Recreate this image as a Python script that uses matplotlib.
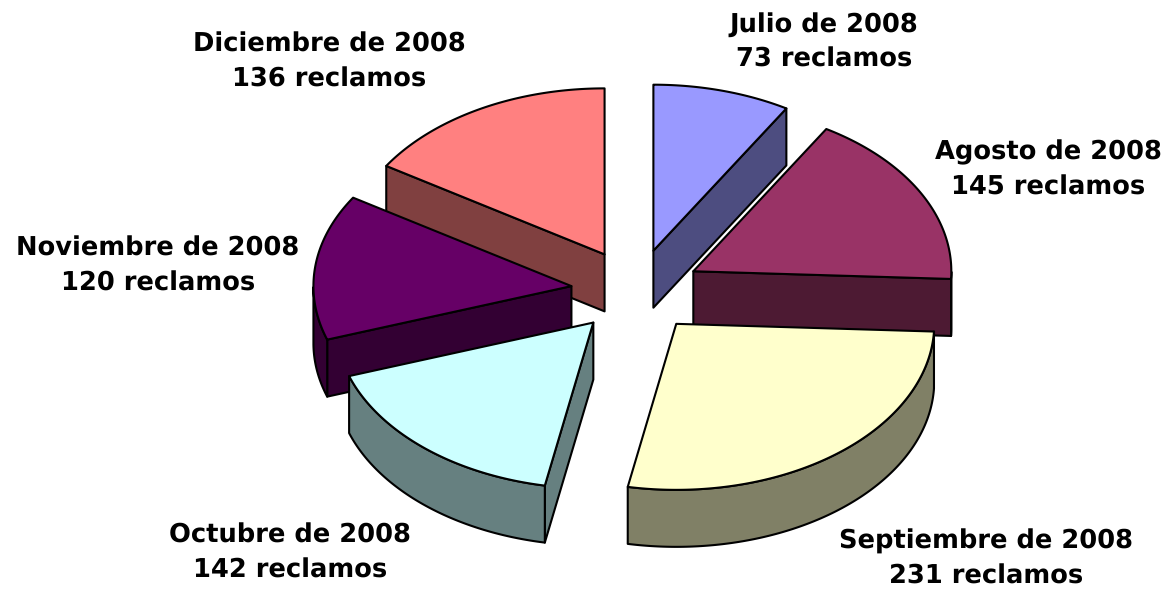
import numpy as np
import matplotlib
matplotlib.use("Agg")
import matplotlib.pyplot as plt
from matplotlib.patches import Polygon

plt.rcParams['text.hinting'] = 'none'

meses = ["Julio de 2008", "Agosto de 2008", "Septiembre de 2008",
         "Octubre de 2008", "Noviembre de 2008", "Diciembre de 2008"]
reclamos = [73, 145, 231, 142, 120, 136]
colores = ["#9999FF", "#993366", "#FFFFCC", "#CCFFFF", "#660066", "#FF8080"]

# posicion de las etiquetas (pixeles)
pos_x = [824, 1048, 986, 290, 158, 329]
pos_y = [42, 170, 559, 553, 266, 62]

# geometria del pie 3D (pixeles)
cx, cy = 636, 291
rx, ry = 258, 166
alto = 57
explode = 0.252
orden = [5, 0, 4, 1, 3, 2]  # de atras hacia adelante

fig = plt.figure(figsize=(11.66, 5.9), dpi=100)
ax = fig.add_axes([0, 0, 1, 1])
ax.set_xlim(0, 1166)
ax.set_ylim(590, 0)
ax.axis("off")

total = sum(reclamos)
fin = np.cumsum(reclamos) / total * 2 * np.pi
ini = np.concatenate([[0], fin[:-1]])


def oscuro(c):
    return tuple(v * 0.5 for v in matplotlib.colors.to_rgb(c))


for i in orden:
    t0, t1 = ini[i], fin[i]
    mid = (t0 + t1) / 2
    ax0 = cx + explode * rx * np.sin(mid)
    ay0 = cy - explode * ry * np.cos(mid)
    t = np.linspace(t0, t1, 150)
    xs = ax0 + rx * np.sin(t)
    ys = ay0 - ry * np.cos(t)
    kw = dict(edgecolor="black", linewidth=1.5, joinstyle="round")
    # paredes radiales, solo las que miran al frente
    for k, visible in [(0, np.sin(t0) < 0), (-1, np.sin(t1) > 0)]:
        if visible:
            pared = [(ax0, ay0), (xs[k], ys[k]), (xs[k], ys[k] + alto), (ax0, ay0 + alto)]
            ax.add_patch(Polygon(pared, facecolor=oscuro(colores[i]), **kw))
    # pared exterior, solo la parte de adelante
    m = (t >= np.pi / 2) & (t <= 3 * np.pi / 2)
    if m.sum() > 1:
        arriba = np.column_stack([xs[m], ys[m]])
        abajo = np.column_stack([xs[m], ys[m] + alto])[::-1]
        ax.add_patch(Polygon(np.vstack([arriba, abajo]), facecolor=oscuro(colores[i]), **kw))
    # tapa
    tapa = np.vstack([[(ax0, ay0)], np.column_stack([xs, ys])])
    ax.add_patch(Polygon(tapa, facecolor=colores[i], **kw))

for mes, v, x, y in zip(meses, reclamos, pos_x, pos_y):
    ax.text(x, y, f"{mes}\n{v} reclamos", ha="center", va="center",
            fontsize=18.5, fontweight="bold", family="DejaVu Sans",
            linespacing=1.5, color="black")

fig.savefig("out.png", dpi=100)
